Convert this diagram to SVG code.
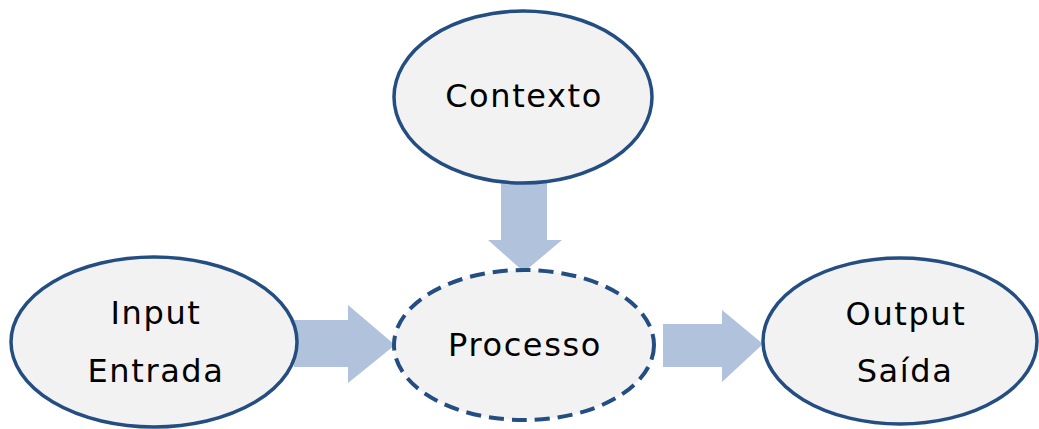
<svg xmlns="http://www.w3.org/2000/svg" width="1039" height="429" viewBox="0 0 1039 429">
<style>
.node{fill:#f2f2f2;stroke:#244d82;stroke-width:3.5}
.dash{stroke-width:4;stroke-dasharray:15 8}
.arrow{fill:#b1c2dc;stroke:none}
text{font-family:"DejaVu Sans","Liberation Sans",sans-serif;font-size:32px;fill:#000;text-anchor:middle;letter-spacing:1.6px}
</style>
<rect width="1039" height="429" fill="#fff"/>
<g id="connectors">
<polygon class="arrow" points="501,183 547,183 547,240 562,240 524,272 488,240 501,240"/>
<polygon class="arrow" points="294,320 348,320 348,305 395,345 348,383 348,367 294,367"/>
<polygon class="arrow" points="663,324 722,324 722,310 763,344 722,382 722,367 663,367"/>
</g>
<g id="contexto">
<ellipse class="node" cx="523" cy="97" rx="129" ry="86"/>
<text x="524" y="107">Contexto</text>
</g>
<g id="processo">
<ellipse class="node dash" cx="524" cy="345" rx="130" ry="75"/>
<text x="525" y="356">Processo</text>
</g>
<g id="input">
<ellipse class="node" cx="154" cy="342" rx="143" ry="85"/>
<text x="156" y="324">Input</text>
<text x="156" y="382">Entrada</text>
</g>
<g id="output">
<ellipse class="node" cx="900" cy="341" rx="137" ry="83"/>
<text x="906" y="325">Output</text>
<text x="905" y="382">Saída</text>
</g>
</svg>
